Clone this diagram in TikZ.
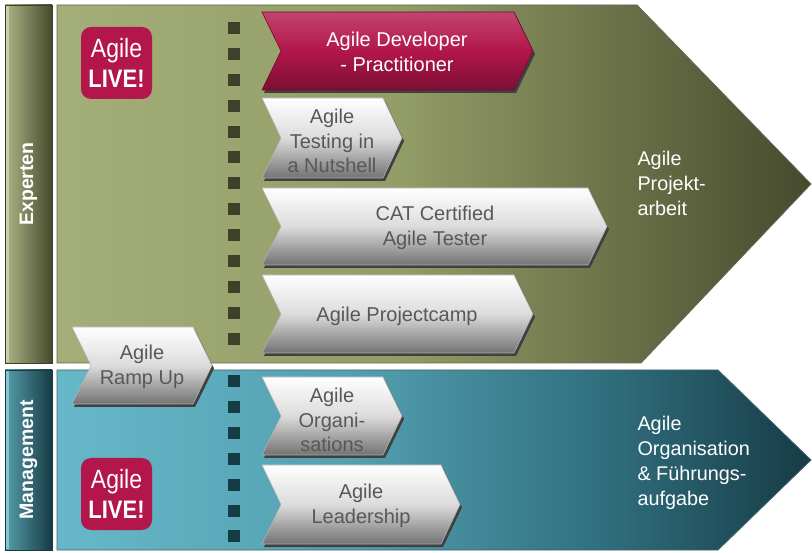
\documentclass[tikz,border=0pt]{standalone}
\usepackage{fontspec}
\setmainfont{Liberation Sans}
\definecolor{gA}{HTML}{A4AE78}
\definecolor{gB}{HTML}{929C66}
\definecolor{gC}{HTML}{6B7249}
\definecolor{gD}{HTML}{454A2D}
\definecolor{tA}{HTML}{66B8C8}
\definecolor{tB}{HTML}{529FB0}
\definecolor{tC}{HTML}{2F6C7B}
\definecolor{tD}{HTML}{163B45}
\definecolor{gdotc}{HTML}{3C4127}
\definecolor{tdotc}{HTML}{153B45}
\definecolor{livered}{HTML}{B2164A}
\definecolor{chevtxt}{HTML}{585858}
\pgfdeclarehorizontalshading{greenpanel}{100bp}{color(0bp)=(gA); color(25bp)=(gA); color(48bp)=(gB); color(62bp)=(gC); color(75bp)=(gD); color(100bp)=(gD)}
\pgfdeclarehorizontalshading{tealpanel}{100bp}{color(0bp)=(tA); color(25bp)=(tA); color(45bp)=(tB); color(62bp)=(tC); color(75bp)=(tD); color(100bp)=(tD)}
\tikzset{
  greenfill/.style={shading=greenpanel, draw=gdotc!80, line width=0.8pt},
  tealfill/.style={shading=tealpanel, draw=tdotc!80, line width=0.8pt},
  expbar/.style={left color=gA!90!white, right color=gD, draw=gdotc, line width=0.8pt},
  mgmbar/.style={left color=tA!85!black, right color=tD, draw=tdotc, line width=0.8pt},
  sidelabel/.style={rotate=90, text=white, font=\fontsize{19.5}{22}\selectfont\bfseries},
  paneltext/.style={anchor=west, align=left, text=white, font=\fontsize{19.8}{25}\selectfont},
  chevgray/.style={top color=white, bottom color=black!55, middle color=black!14, draw=black!30, line width=0.6pt},
  chevred/.style={top color=livered!80!white, bottom color=livered!70!black, middle color=livered, draw=livered!60!black, line width=0.6pt},
  chevshadow/.style={fill=black!75},
  chevtext/.style={align=center, text=chevtxt, font=\fontsize{20}{24.5}\selectfont},
  chevtextw/.style={align=center, text=white, font=\fontsize{20}{24.5}\selectfont},
  livebadge/.style={fill=livered, rounded corners=10pt, minimum width=71pt, minimum height=72pt, align=center, text=white, font=\fontsize{23}{30}\selectfont, inner sep=0pt},
  gdot/.style={fill=gdotc},
  tdot/.style={fill=tdotc}
}
\newcommand{\chevron}[5]{%
  \fill[chevshadow,shift={(2,3)}] (#2,#3) -- ({#4-19},#3) -- (#4,{(#3+#5)/2}) -- ({#4-19},#5) -- (#2,#5) -- ({#2+19},{(#3+#5)/2}) -- cycle;
  \path[#1] (#2,#3) -- ({#4-19},#3) -- (#4,{(#3+#5)/2}) -- ({#4-19},#5) -- (#2,#5) -- ({#2+19},{(#3+#5)/2}) -- cycle;}
\newcommand{\livetext}{\scalebox{1}[1.15]{Agile}\\\scalebox{1}[1.15]{\fontsize{22}{30}\selectfont\bfseries LIVE!}}
\begin{document}
\begin{tikzpicture}[x=1pt,y=-1pt]
\useasboundingbox (0,0) rectangle (812,553);
\fill[white] (0,0) rectangle (812,553);
% side bars
\path[expbar] (5,5) rectangle (52,363);
\path[mgmbar] (5,370) rectangle (52,550);
\fill[gA!60!white] (6,6) rectangle (9,362);
\fill[tA!80!white] (6,371) rectangle (9,549);
\node[sidelabel] (exp) at (28.5,184) {Experten};
\node[sidelabel] (mgm) at (28.5,460) {Management};
% panels
\path[greenfill] (57,5) -- (637,5) -- (811,184) -- (641,363) -- (57,363) -- cycle;
\path[tealfill] (57,370) -- (718,370) -- (811,460) -- (718,550) -- (57,550) -- cycle;
% dotted columns
\foreach \i in {0,...,12} \fill[gdot] (228,{22+\i*25.9}) rectangle +(12,12);
\foreach \i in {0,...,6} \fill[tdot] (228,{375+\i*25.9}) rectangle +(12,12);
% badges
\node[livebadge] (live1) at (116.5,63) {\livetext};
\node[livebadge] (live2) at (116.5,494) {\livetext};
% chevrons
\chevron{chevred}{262}{12}{533}{90}
\node[chevtextw] (dev) at (397,52) {Agile Developer\\- Practitioner};
\chevron{chevgray}{262}{98}{402}{178}
\node[chevtext] (test) at (332,141) {Agile\\Testing in\\a Nutshell};
\chevron{chevgray}{262}{188}{607}{265}
\node[chevtext] (cat) at (435,228) {CAT Certified\\ Agile Tester};
\chevron{chevgray}{262}{275}{533}{353}
\node[chevtext] (camp) at (397,316) {Agile Projectcamp};
\chevron{chevgray}{262}{377}{402}{455}
\node[chevtext] (orga) at (332,420) {Agile\\Organi-\\sations};
\chevron{chevgray}{262}{465}{460}{544}
\node[chevtext] (lead) at (361,506) {Agile\\Leadership};
\chevron{chevgray}{72}{327}{212}{404}
\node[chevtext] (ramp) at (142,367) {Agile\\Ramp Up};
% panel texts
\node[paneltext] (proj) at (634,183) {Agile\\Projekt-\\arbeit};
\node[paneltext] (fuehr) at (634,463) {Agile\\Organisation\\\& Führungs-\\aufgabe};
\end{tikzpicture}
\end{document}
